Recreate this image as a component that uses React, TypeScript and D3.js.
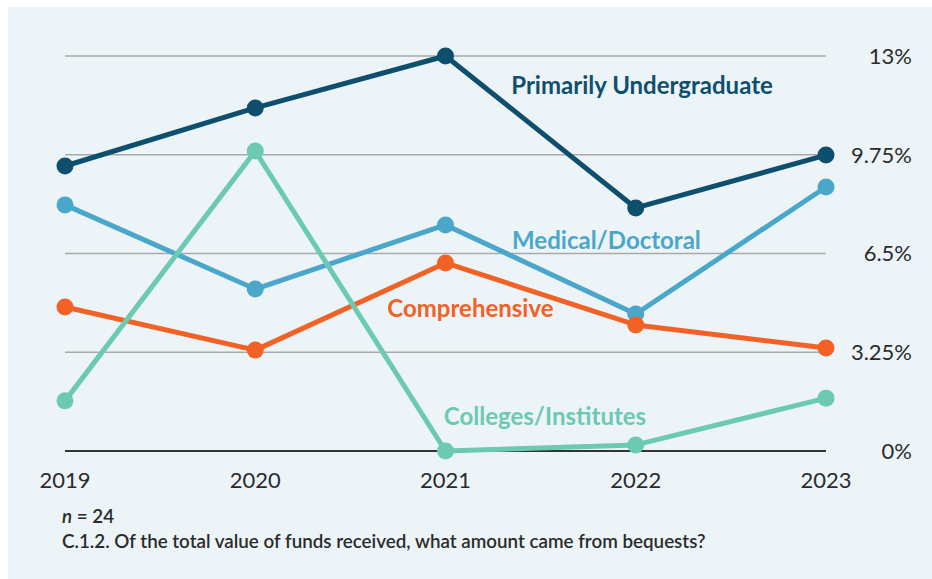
import React from "react";
import * as d3 from "d3";

const years = ["2019", "2020", "2021", "2022", "2023"];
const yTicks = [0, 3.25, 6.5, 9.75, 13];
const yTickLabels = ["0%", "3.25%", "6.5%", "9.75%", "13%"];

const primarilyUndergraduate = [9.38, 11.29, 13.0, 8.0, 9.74];
const medicalDoctoral = [8.1, 5.33, 7.44, 4.51, 8.69];
const comprehensive = [4.74, 3.32, 6.19, 4.15, 3.39];
const collegesInstitutes = [1.65, 9.87, 0, 0.2, 1.74];

const seriesNames = ["Primarily Undergraduate", "Medical/Doctoral", "Comprehensive", "Colleges/Institutes"];
const seriesColors = ["#0f4f6e", "#4aa7c9", "#f26125", "#6cc9b2"];
const seriesValues = [primarilyUndergraduate, medicalDoctoral, comprehensive, collegesInstitutes];
// label anchor: [year index position (fractional), value]
const labelPos: [number, number][] = [
  [3.033, 11.75],
  [2.846, 6.65],
  [2.131, 4.41],
  [2.523, 0.86],
];

const W = 932;
const H = 579;
const FONT = "Lato, 'Open Sans', sans-serif";

export default function App() {
  const x = d3.scalePoint<string>().domain(years).range([65, 826]);
  const y = d3.scaleLinear().domain([0, 13]).range([451, 56]);
  const xi = d3.scaleLinear().domain([0, 4]).range([65, 826]);

  const line = d3
    .line<number>()
    .x((_, i) => x(years[i]) as number)
    .y((d) => y(d));

  return (
    <svg
      width={W}
      height={H}
      style={{ position: "absolute", left: 0, top: 0, fontFamily: FONT }}
    >
      <rect x={8} y={7} width={W - 8} height={H - 7} fill="#ecf4f8" />
      {yTicks.map((t, i) => (
        <g key={t}>
          <line
            x1={65}
            x2={826}
            y1={y(t)}
            y2={y(t)}
            stroke={t === 0 ? "#333" : "#a9aaab"}
            strokeWidth={t === 0 ? 2 : 1.5}
          />
          <text
            x={912}
            y={y(t)}
            dy="0.36em"
            textAnchor="end"
            fontSize={22}
            fill="#2b2b2b"
          >
            {yTickLabels[i]}
          </text>
        </g>
      ))}
      {years.map((yr) => (
        <text
          key={yr}
          x={x(yr)}
          y={488}
          textAnchor="middle"
          fontSize={22}
          fill="#2b2b2b"
        >
          {yr}
        </text>
      ))}
      {seriesValues.map((vals, si) => (
        <g key={seriesNames[si]}>
          <path d={line(vals) || ""} fill="none" stroke={seriesColors[si]} strokeWidth={5} strokeLinejoin="round" />
          {vals.map((v, i) => (
            <circle key={i} cx={x(years[i])} cy={y(v)} r={8.5} fill={seriesColors[si]} />
          ))}
        </g>
      ))}
      {seriesNames.map((n, si) => (
        <text
          key={n}
          x={xi(labelPos[si][0])}
          y={y(labelPos[si][1])}
          textAnchor="middle"
          fontSize={24}
          fontWeight={700}
          fill={seriesColors[si]}
        >
          {n}
        </text>
      ))}
      <text x={62} y={523} fontSize={18.8} fontWeight={600} fill="#2b2b2b">
        <tspan fontStyle="italic">n</tspan>
        <tspan> = 24</tspan>
      </text>
      <text x={62} y={548} fontSize={18.8} fontWeight={600} fill="#2b2b2b">
        C.1.2. Of the total value of funds received, what amount came from bequests?
      </text>
    </svg>
  );
}
